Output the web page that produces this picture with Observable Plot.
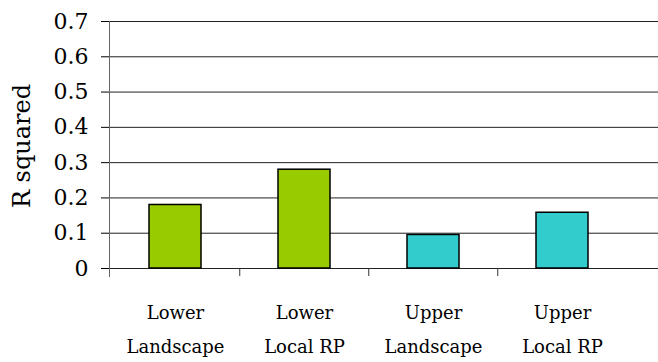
<!DOCTYPE html>
<html>
<head>
<meta charset="utf-8">
<script src="https://cdn.jsdelivr.net/npm/d3@7"></script>
<script src="https://cdn.jsdelivr.net/npm/@observablehq/plot@0.6"></script>
<style>
  html, body { margin: 0; padding: 0; background: #fff; }
  #chart svg { display: block; }
</style>
</head>
<body>
<div id="chart"></div>
<script>
const categories = ["Lower\nLandscape", "Lower\nLocal RP", "Upper\nLandscape", "Upper\nLocal RP"];
const groups = ["Lower", "Lower", "Upper", "Upper"];
const rSquared = [0.18, 0.28, 0.095, 0.158];
const yTicks = [0, 0.1, 0.2, 0.3, 0.4, 0.5, 0.6, 0.7];
const yLabel = "R squared";

const data = categories.map((c, i) => ({category: c, group: groups[i], value: rSquared[i]}));
const boundaries = categories.slice(1);

const FONT = "DejaVu Serif";
const W = 658, H = 362, ML = 109, MR = 0, MT = 21, MB = 94;
const xRange = [ML, 627];
const step = (xRange[1] - xRange[0]) / categories.length;

const chart = Plot.plot({
  width: W,
  height: H,
  marginLeft: ML,
  marginRight: MR,
  marginTop: MT,
  marginBottom: MB,
  style: {background: "#fff", color: "#000", fontFamily: FONT},
  x: {domain: categories, range: xRange, paddingInner: 0.6, paddingOuter: 0.3},
  y: {domain: [0, 0.7]},
  color: {domain: ["Lower", "Upper"], range: ["#99CC00", "#33CCCC"]},
  marks: [
    Plot.ruleY(yTicks, {stroke: "#222", strokeWidth: 1}),
    Plot.frame({anchor: "left", stroke: "#666", insetBottom: -8}),
    Plot.ruleX(boundaries, {x: d => d, dx: -step / 2, y1: 0, y2: 0, insetBottom: -8, stroke: "#333"}),
    Plot.barY(data, {x: "category", y: "value", fill: "group", stroke: "#000", strokeWidth: 1.5}),
    Plot.axisY({ticks: yTicks, tickSize: 8, tickPadding: 13, fontSize: 22, fontFamily: FONT, tickFormat: d => String(d), label: null}),
    Plot.axisX({tickSize: 0, tickPadding: 26, fontSize: 18, fontFamily: FONT, lineHeight: 1.89, label: null, tickFormat: d => d}),
    Plot.text([yLabel], {frameAnchor: "left", textAnchor: "middle", rotate: -90, dx: -87, dy: 1, fontSize: 24, fontFamily: FONT, text: d => d})
  ]
});
document.getElementById("chart").appendChild(chart);
</script>
</body>
</html>
